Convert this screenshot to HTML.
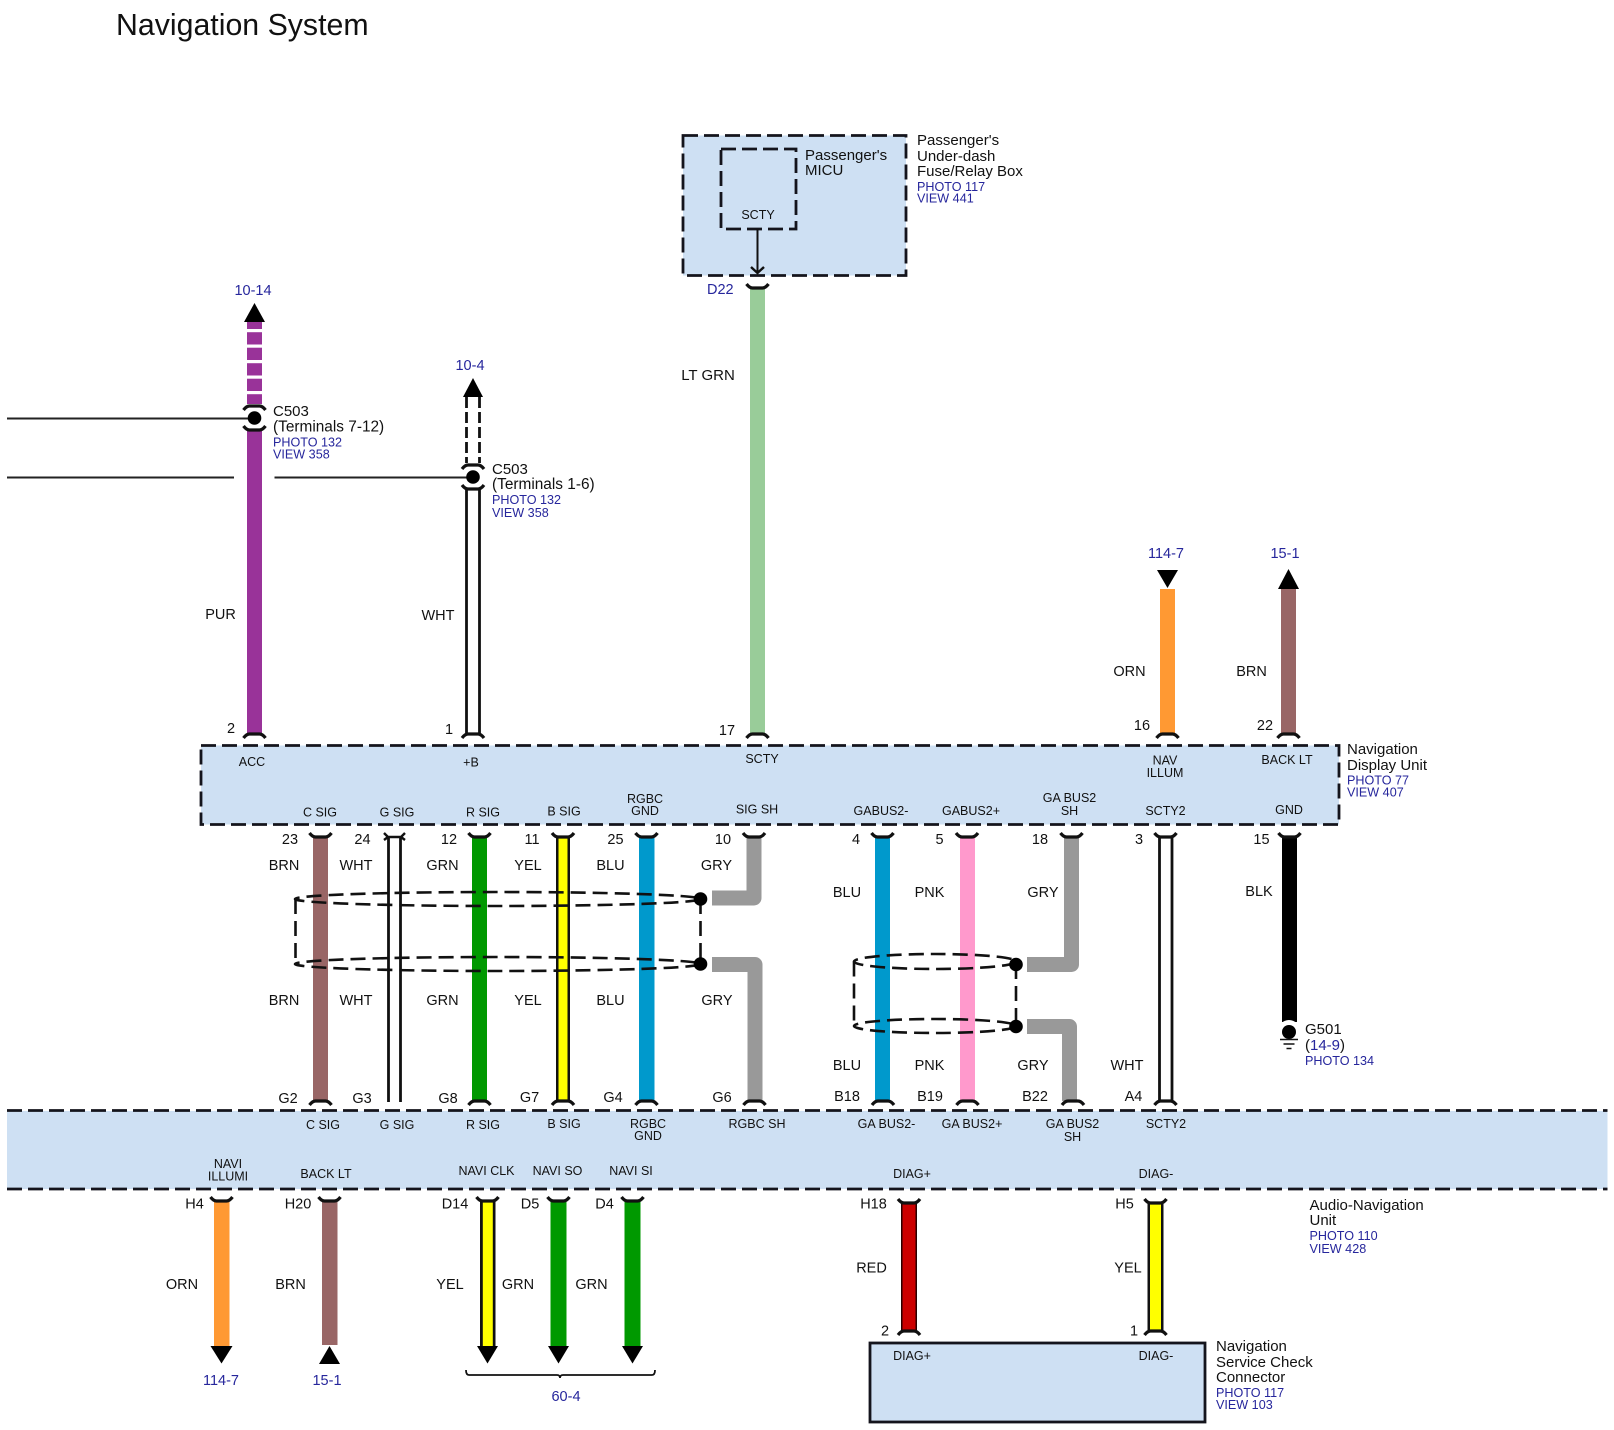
<!DOCTYPE html>
<html>
<head>
<meta charset="utf-8">
<style>
html,body{margin:0;padding:0;background:#fff;width:1614px;height:1430px;overflow:hidden}
svg{display:block}
text{font-family:"Liberation Sans",sans-serif;fill:#111}
.c{text-anchor:middle}
.s{font-size:12.5px}
.m{font-size:14.5px}
.l{font-size:15px}
.t{font-size:15.4px}
.b{font-size:12.6px;fill:#26269c}
.r{font-size:14.5px;fill:#26269c;text-anchor:middle}
.box{fill:#cee0f3;stroke:#14141c;stroke-width:2.8;stroke-dasharray:15 6}
.sh{fill:none;stroke:#111;stroke-width:2.6;stroke-dasharray:15 7}
.br{fill:none;stroke:#111;stroke-width:3.2}
</style>
</head>
<body>
<svg width="1614" height="1430" viewBox="0 0 1614 1430" xmlns="http://www.w3.org/2000/svg">
<defs>
<path id="u" class="br" d="M-11,-4 Q-8,0 -5,0 H5 Q8,0 11,-4"/>
<path id="n" class="br" d="M-11,4 Q-8,0 -5,0 H5 Q8,0 11,4"/>
</defs>

<text x="116" y="35" style="font-size:30.3px">Navigation System</text>

<!-- Fuse box -->
<rect class="box" x="683" y="135.500" width="223" height="140"/>
<rect x="721" y="149" width="75" height="80" style="fill:none;stroke:#14141c;stroke-width:2.800;stroke-dasharray:15 6"/>
<path d="M757.500,229 V273" stroke="#111" stroke-width="2" fill="none"/>
<path d="M751,267 L757.500,273 L764,267" stroke="#111" stroke-width="2.400" fill="none"/>
<text class="s c" x="758" y="219">SCTY</text>
<text class="l" x="805" y="160">Passenger's</text>
<text class="l" x="805" y="175">MICU</text>
<text class="l" x="917" y="145">Passenger's</text>
<text class="l" x="917" y="161">Under-dash</text>
<text class="l" x="917" y="176">Fuse/Relay Box</text>
<text class="b" x="917" y="191">PHOTO 117</text>
<text class="b" x="917" y="202.500">VIEW 441</text>
<rect x="750" y="288" width="15" height="446" fill="#99cc99"/>
<use href="#u" x="757.500" y="288"/>
<text class="m" x="707" y="294" style="fill:#26269c">D22</text>
<text class="l c" x="708" y="380">LT GRN</text>
<use href="#n" x="757.500" y="734"/>
<text class="m c" x="727" y="735">17</text>

<!-- Purple wire -->
<rect x="247" y="320" width="15" height="84" fill="#993399"/>
<g fill="#fff">
<rect x="246" y="329" width="17" height="3.200"/>
<rect x="246" y="344.500" width="17" height="3.200"/>
<rect x="246" y="360" width="17" height="3.200"/>
<rect x="246" y="375.500" width="17" height="3.200"/>
<rect x="246" y="391" width="17" height="3.200"/>
</g>
<rect x="247" y="431" width="15" height="303" fill="#993399"/>
<polygon points="254.500,303 244,322 265,322" fill="#000"/>
<text class="r" x="253" y="295">10-14</text>
<path d="M7,418.500 H254 M7,477.500 H234 M274.500,477.500 H472" stroke="#222" stroke-width="2" fill="none"/>
<circle cx="254.500" cy="418" r="6.800" fill="#000"/>
<use href="#n" x="254.500" y="406"/>
<use href="#u" x="254.500" y="430"/>
<text class="l" x="273" y="416">C503</text>
<text class="t" x="273" y="431.500">(Terminals 7-12)</text>
<text class="b" x="273" y="446.500">PHOTO 132</text>
<text class="b" x="273" y="458.500">VIEW 358</text>
<text class="m c" x="220.500" y="619">PUR</text>
<use href="#n" x="254.500" y="734"/>
<text class="m c" x="231" y="733">2</text>

<!-- White wire +B -->
<path d="M466.500,397 V463 M479.500,397 V463" stroke="#111" stroke-width="2.800" stroke-dasharray="11 4" fill="none"/>
<polygon points="473,378 463,397 483,397" fill="#000"/>
<text class="r" x="470" y="370">10-4</text>
<circle cx="473" cy="477" r="6.800" fill="#000"/>
<use href="#n" x="473" y="465"/>
<use href="#u" x="473" y="489"/>
<path d="M466.500,489 V734 M479.500,489 V734" stroke="#111" stroke-width="2.800" fill="none"/>
<text class="l" x="492" y="474">C503</text>
<text class="t" x="492" y="489">(Terminals 1-6)</text>
<text class="b" x="492" y="504">PHOTO 132</text>
<text class="b" x="492" y="517">VIEW 358</text>
<text class="m c" x="438" y="620">WHT</text>
<use href="#n" x="473" y="734"/>
<text class="m c" x="449" y="734">1</text>

<!-- ORN and BRN upper -->
<rect x="1160" y="589" width="15" height="145" fill="#ff9933"/>
<polygon points="1157,570 1178,570 1167.500,588" fill="#000"/>
<text class="r" x="1166" y="558">114-7</text>
<text class="m c" x="1129.500" y="676">ORN</text>
<use href="#n" x="1167.500" y="734"/>
<text class="m c" x="1142" y="730">16</text>
<rect x="1281" y="589" width="15" height="145" fill="#996666"/>
<polygon points="1288.500,569 1278,589 1299,589" fill="#000"/>
<text class="r" x="1285" y="558">15-1</text>
<text class="m c" x="1251.500" y="676">BRN</text>
<use href="#n" x="1288.500" y="734"/>
<text class="m c" x="1265" y="730">22</text>

<!-- Navigation display unit -->
<rect class="box" x="201" y="745.500" width="1138" height="79"/>
<text class="s c" x="252" y="766">ACC</text>
<text class="s c" x="471" y="766.500">+B</text>
<text class="s c" x="762" y="763">SCTY</text>
<text class="s c" x="1165" y="764.500">NAV</text>
<text class="s c" x="1165" y="777">ILLUM</text>
<text class="s c" x="1287" y="764">BACK LT</text>
<text class="s c" x="320" y="816.500">C SIG</text>
<text class="s c" x="397" y="816.500">G SIG</text>
<text class="s c" x="483" y="816.500">R SIG</text>
<text class="s c" x="564" y="815.500">B SIG</text>
<text class="s c" x="645" y="803">RGBC</text>
<text class="s c" x="645" y="815">GND</text>
<text class="s c" x="757" y="813.500">SIG SH</text>
<text class="s c" x="881" y="815">GABUS2-</text>
<text class="s c" x="971" y="815">GABUS2+</text>
<text class="s c" x="1069.500" y="802">GA BUS2</text>
<text class="s c" x="1069.500" y="815">SH</text>
<text class="s c" x="1165.500" y="815">SCTY2</text>
<text class="s c" x="1289" y="814">GND</text>
<text class="l" x="1347" y="754">Navigation</text>
<text class="l" x="1347" y="770">Display Unit</text>
<text class="b" x="1347" y="784.500">PHOTO 77</text>
<text class="b" x="1347" y="796.500">VIEW 407</text>

<!-- Middle wires -->
<rect x="313" y="838" width="15" height="263" fill="#996666"/>
<path d="M388.500,836 V1102 M400.500,836 V1102" stroke="#111" stroke-width="2.800" fill="none"/>
<rect x="472" y="838" width="15" height="263" fill="#009900"/>
<rect x="556" y="838" width="14" height="263" fill="#111"/>
<rect x="558.500" y="838" width="9" height="263" fill="#ffff00"/>
<rect x="639" y="838" width="15.500" height="263" fill="#0099cc"/>
<path d="M754,838 V898 H712" stroke="#999" stroke-width="15" fill="none" stroke-linejoin="round"/>
<path d="M712,964.500 H755 V1101" stroke="#999" stroke-width="15" fill="none" stroke-linejoin="round"/>
<rect x="875" y="838" width="15" height="263" fill="#0099cc"/>
<rect x="960" y="838" width="15" height="263" fill="#ff99cc"/>
<path d="M1071.500,838 V964.500 H1027" stroke="#999" stroke-width="15" fill="none" stroke-linejoin="round"/>
<path d="M1027,1026.500 H1069.500 V1101" stroke="#999" stroke-width="15" fill="none" stroke-linejoin="round"/>
<path d="M1159.500,836 V1101 M1172,836 V1101" stroke="#111" stroke-width="2.800" fill="none"/>
<rect x="1282" y="838" width="15" height="184" fill="#000"/>

<!-- halo around shield dots -->
<circle cx="700.500" cy="899" r="11" fill="#fff"/>
<circle cx="700.500" cy="964" r="11" fill="#fff"/>
<circle cx="1016" cy="964.500" r="11" fill="#fff"/>
<circle cx="1016" cy="1026.500" r="11" fill="#fff"/>
<circle cx="1289" cy="1031" r="11" fill="#fff"/>

<!-- Shields -->
<ellipse class="sh" cx="497.500" cy="899" rx="202.500" ry="7"/>
<ellipse class="sh" cx="497.500" cy="964" rx="202.500" ry="7"/>
<path class="sh" d="M295.500,899 V964 M700.500,899 V964"/>
<circle cx="700.500" cy="899" r="6.800" fill="#000"/>
<circle cx="700.500" cy="964" r="6.800" fill="#000"/>
<ellipse class="sh" cx="935" cy="961.500" rx="81" ry="7.500"/>
<ellipse class="sh" cx="935" cy="1026" rx="81" ry="7"/>
<path class="sh" d="M854,961.500 V1026 M1016,964 V1026"/>
<circle cx="1016" cy="964.500" r="6.800" fill="#000"/>
<circle cx="1016" cy="1026.500" r="6.800" fill="#000"/>

<!-- Brackets under nav unit -->
<use href="#u" x="320.500" y="837"/>
<path d="M384,833 L388,837 H401 L405,833 M384,840 L388,837 M401,837 L405,840" class="br" style="stroke-width:2.400px"/>
<use href="#u" x="479.500" y="837"/>
<use href="#u" x="563" y="837"/>
<use href="#u" x="646.500" y="837"/>
<use href="#u" x="754" y="837"/>
<use href="#u" x="882.500" y="837"/>
<use href="#u" x="967" y="837"/>
<use href="#u" x="1071.500" y="837"/>
<use href="#u" x="1165.500" y="837"/>
<use href="#u" x="1289.500" y="837"/>

<!-- Brackets above audio unit -->
<use href="#n" x="320.500" y="1101"/>
<use href="#n" x="479.500" y="1101"/>
<use href="#n" x="563" y="1101"/>
<use href="#n" x="646.500" y="1101"/>
<use href="#n" x="754.500" y="1101"/>
<use href="#n" x="883" y="1101"/>
<use href="#n" x="967.500" y="1101"/>
<use href="#n" x="1073" y="1101"/>
<use href="#n" x="1165.500" y="1101"/>

<!-- Numbers -->
<text class="m c" x="290" y="844">23</text>
<text class="m c" x="362.500" y="844">24</text>
<text class="m c" x="449" y="844">12</text>
<text class="m c" x="532" y="844">11</text>
<text class="m c" x="615.500" y="844">25</text>
<text class="m c" x="723" y="844">10</text>
<text class="m c" x="856" y="844">4</text>
<text class="m c" x="939.500" y="844">5</text>
<text class="m c" x="1040" y="844">18</text>
<text class="m c" x="1139" y="844">3</text>
<text class="m c" x="1261.500" y="844">15</text>

<!-- Colour labels -->
<text class="m c" x="284" y="870">BRN</text>
<text class="m c" x="356" y="870">WHT</text>
<text class="m c" x="442.500" y="870">GRN</text>
<text class="m c" x="528" y="870">YEL</text>
<text class="m c" x="610.500" y="870">BLU</text>
<text class="m c" x="716.500" y="870">GRY</text>
<text class="m c" x="847" y="897">BLU</text>
<text class="m c" x="929.500" y="897">PNK</text>
<text class="m c" x="1043" y="897">GRY</text>
<text class="m c" x="1259" y="896">BLK</text>
<text class="m c" x="284" y="1005">BRN</text>
<text class="m c" x="356" y="1005">WHT</text>
<text class="m c" x="442.500" y="1005">GRN</text>
<text class="m c" x="528" y="1005">YEL</text>
<text class="m c" x="610.500" y="1005">BLU</text>
<text class="m c" x="717" y="1005">GRY</text>
<text class="m c" x="847" y="1070">BLU</text>
<text class="m c" x="929.500" y="1070">PNK</text>
<text class="m c" x="1033" y="1070">GRY</text>
<text class="m c" x="1127" y="1070">WHT</text>

<!-- G labels -->
<text class="m c" x="288" y="1103">G2</text>
<text class="m c" x="362" y="1103">G3</text>
<text class="m c" x="448" y="1103">G8</text>
<text class="m c" x="529.500" y="1102">G7</text>
<text class="m c" x="613" y="1102">G4</text>
<text class="m c" x="722" y="1102">G6</text>
<text class="m c" x="847" y="1101">B18</text>
<text class="m c" x="930" y="1101">B19</text>
<text class="m c" x="1035" y="1101">B22</text>
<text class="m c" x="1133.500" y="1101">A4</text>

<!-- G501 -->
<circle cx="1289" cy="1032" r="7" fill="#000"/>
<path d="M1280,1039.500 H1298 M1283.500,1044 H1294.500 M1286.500,1048.500 H1291.500" stroke="#111" stroke-width="1.600" fill="none"/>
<text class="l" x="1305" y="1034">G501</text>
<text class="l" x="1305" y="1050">(<tspan style="fill:#26269c">14-9</tspan>)</text>
<text class="b" x="1305" y="1065">PHOTO 134</text>

<!-- Audio nav unit -->
<rect x="7" y="1111" width="1600.500" height="78" fill="#cee0f3"/>
<path d="M7,1110.500 H1607.500 M7,1189 H1607.500" stroke="#14141c" stroke-width="2.800" stroke-dasharray="15 6" fill="none"/>
<text class="s c" x="323" y="1129">C SIG</text>
<text class="s c" x="397" y="1129">G SIG</text>
<text class="s c" x="483" y="1129">R SIG</text>
<text class="s c" x="564" y="1128">B SIG</text>
<text class="s c" x="648" y="1128">RGBC</text>
<text class="s c" x="648" y="1140">GND</text>
<text class="s c" x="757" y="1128">RGBC SH</text>
<text class="s c" x="886.500" y="1128">GA BUS2-</text>
<text class="s c" x="972" y="1128">GA BUS2+</text>
<text class="s c" x="1072.500" y="1128">GA BUS2</text>
<text class="s c" x="1072.500" y="1141">SH</text>
<text class="s c" x="1166" y="1128">SCTY2</text>
<text class="s c" x="228" y="1168">NAVI</text>
<text class="s c" x="228" y="1180.500">ILLUMI</text>
<text class="s c" x="326" y="1178">BACK LT</text>
<text class="s c" x="486.500" y="1175">NAVI CLK</text>
<text class="s c" x="557.500" y="1175">NAVI SO</text>
<text class="s c" x="631" y="1175">NAVI SI</text>
<text class="s c" x="912" y="1178">DIAG+</text>
<text class="s c" x="1156" y="1178">DIAG-</text>

<!-- Lower wires -->
<rect x="214" y="1201" width="15.500" height="145" fill="#ff9933"/>
<polygon points="210.500,1346 232.500,1346 221.500,1363.500" fill="#000"/>
<rect x="322" y="1201" width="15.500" height="144" fill="#996666"/>
<polygon points="329.500,1346 319,1364 340,1364" fill="#000"/>
<rect x="480" y="1201" width="15.500" height="145" fill="#111"/>
<rect x="482.800" y="1201" width="10" height="145" fill="#ffff00"/>
<polygon points="477,1346 498,1346 487.500,1363.500" fill="#000"/>
<rect x="550.500" y="1201" width="16" height="145" fill="#009900"/>
<polygon points="548,1346 569,1346 558.500,1363.500" fill="#000"/>
<rect x="624.500" y="1201" width="16" height="145" fill="#009900"/>
<polygon points="622,1346 643,1346 632.500,1363.500" fill="#000"/>
<use href="#u" x="221.500" y="1201"/>
<use href="#u" x="329.500" y="1201"/>
<use href="#u" x="487.500" y="1201"/>
<use href="#u" x="558.500" y="1201"/>
<use href="#u" x="632.500" y="1201"/>
<text class="m c" x="194.500" y="1208.500">H4</text>
<text class="m c" x="298" y="1208.500">H20</text>
<text class="m c" x="455" y="1208.500">D14</text>
<text class="m c" x="530" y="1208.500">D5</text>
<text class="m c" x="604.500" y="1208.500">D4</text>
<text class="m c" x="182" y="1289">ORN</text>
<text class="m c" x="290.500" y="1289">BRN</text>
<text class="m c" x="450" y="1289">YEL</text>
<text class="m c" x="518" y="1289">GRN</text>
<text class="m c" x="591.500" y="1289">GRN</text>
<text class="r" x="221" y="1385">114-7</text>
<text class="r" x="327" y="1385">15-1</text>
<path d="M466,1370 Q466,1375 469,1375 H557 Q560,1375 560,1378 Q560,1375 563,1375 H652 Q655,1375 655,1370" fill="none" stroke="#111" stroke-width="1.800"/>
<text class="r" x="566" y="1401">60-4</text>

<!-- RED / YEL diag -->
<rect x="901" y="1203" width="16" height="128" fill="#2a0000"/>
<rect x="902.500" y="1203" width="13" height="128" fill="#cc0000"/>
<rect x="1147.500" y="1203" width="16" height="128" fill="#111"/>
<rect x="1150" y="1203" width="11" height="128" fill="#ffff00"/>
<use href="#u" x="909" y="1203"/>
<use href="#u" x="1155.500" y="1203"/>
<use href="#n" x="909" y="1331"/>
<use href="#n" x="1155.500" y="1331"/>
<text class="m c" x="873.500" y="1208.500">H18</text>
<text class="m c" x="1124.500" y="1208.500">H5</text>
<text class="m c" x="871.500" y="1272.500">RED</text>
<text class="m c" x="1128" y="1272.500">YEL</text>
<text class="m c" x="885" y="1335.500">2</text>
<text class="m c" x="1134" y="1335.500">1</text>

<text class="l" x="1309.500" y="1210">Audio-Navigation</text>
<text class="l" x="1309.500" y="1225">Unit</text>
<text class="b" x="1309.500" y="1240">PHOTO 110</text>
<text class="b" x="1309.500" y="1253">VIEW 428</text>

<!-- Service check connector -->
<rect x="870" y="1343" width="335" height="79" fill="#cee0f3" stroke="#14141c" stroke-width="2.800"/>
<text class="s c" x="912" y="1360">DIAG+</text>
<text class="s c" x="1156" y="1360">DIAG-</text>
<text class="l" x="1216" y="1351">Navigation</text>
<text class="l" x="1216" y="1367">Service Check</text>
<text class="l" x="1216" y="1382">Connector</text>
<text class="b" x="1216" y="1397">PHOTO 117</text>
<text class="b" x="1216" y="1409">VIEW 103</text>
</svg>
</body>
</html>
